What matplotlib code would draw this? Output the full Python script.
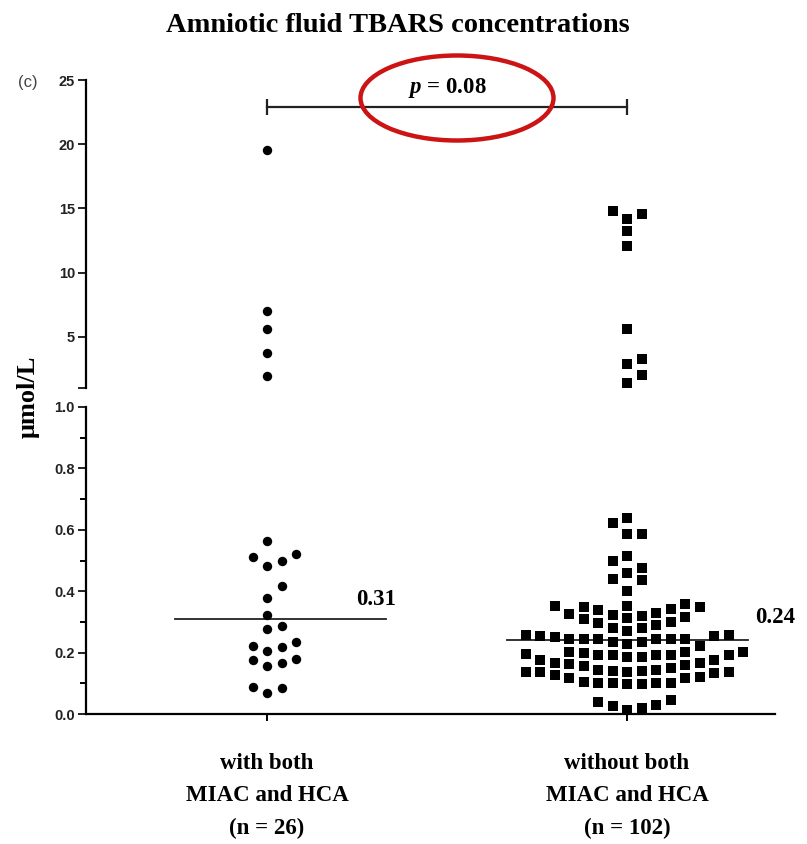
import numpy as np
import matplotlib.pyplot as plt
from matplotlib.patches import Ellipse

# ── data ──────────────────────────────────────────────────────────────────────
groups = ['with both\nMIAC and HCA\n(n = 26)', 'without both\nMIAC and HCA\n(n = 102)']
group_x = [1, 2]
markers = ['o', 's']

# values above the axis break (µmol/L)
with_upper = [19.56, 7.0, 5.6, 3.75, 1.93]
without_upper = [14.76, 14.56, 14.17, 13.2, 12.04, 5.61, 3.23, 2.9, 2.0, 1.4]

# values below the axis break
with_lower = [0.564, 0.512, 0.483, 0.499, 0.521, 0.417, 0.379, 0.322, 0.288,
              0.277, 0.223, 0.206, 0.219, 0.236, 0.179, 0.165, 0.157, 0.176,
              0.089, 0.069, 0.086]
without_lower = [0.623, 0.637, 0.585, 0.585, 0.498, 0.515, 0.477, 0.436, 0.460,
                 0.439, 0.402,
                 0.352, 0.350, 0.341, 0.330, 0.322, 0.325, 0.339, 0.350, 0.352, 0.357,
                 0.315, 0.308, 0.297, 0.279, 0.281, 0.290, 0.301, 0.312, 0.319,
                 0.270, 0.254, 0.254, 0.243, 0.243, 0.243, 0.236, 0.228, 0.236,
                 0.243, 0.243, 0.243, 0.251, 0.221, 0.257, 0.257,
                 0.203, 0.203, 0.192, 0.192, 0.192, 0.187, 0.176, 0.187, 0.176,
                 0.192, 0.192, 0.195, 0.199, 0.203,
                 0.160, 0.132, 0.149, 0.116, 0.143, 0.116, 0.138,
                 0.165,
                 0.140, 0.138, 0.137, 0.139, 0.136,
                 0.102, 0.100, 0.099, 0.100, 0.101, 0.098,
                 0.105, 0.143, 0.122, 0.156, 0.127, 0.163, 0.167,
                 0.040, 0.026, 0.013, 0.018, 0.029, 0.046]

medians = [0.31, 0.24]
median_labels = ['0.31', '0.24']
p_value = '0.08'
title = 'Amniotic fluid TBARS concentrations'

# ── style ─────────────────────────────────────────────────────────────────────
plt.rcParams['font.family'] = 'Liberation Sans'
plt.rcParams['mathtext.fontset'] = 'custom'
plt.rcParams['mathtext.it'] = 'Liberation Serif:italic:bold'
plt.rcParams['mathtext.rm'] = 'Liberation Serif:bold'
SERIF = 'Liberation Serif'

W, H = 807, 844
fig = plt.figure(figsize=(W / 100, H / 100), dpi=100)


def box(l, t, r, b):
    """pixel box -> figure fraction rect"""
    return [l / W, 1 - b / H, (r - l) / W, (b - t) / H]


ax_top = fig.add_axes(box(86, 80, 775, 388))
ax_bot = fig.add_axes(box(86, 407, 775, 714))
XLIM = (0.497, 2.411)

ax_top.set_xlim(*XLIM)
ax_top.set_ylim(1, 25)
ax_bot.set_xlim(*XLIM)
ax_bot.set_ylim(0, 1.0)


def column_swarm(ax, values, center, dx_px=14.5, h_px=12.0):
    """Prism-like dot layout: each point goes to the most central column
    where it does not overlap the previous point in that column."""
    vals = np.asarray(values, float)
    yp = ax.transData.transform(np.column_stack([np.full(len(vals), center), vals]))[:, 1]
    px_per_x = (ax.transData.transform([(1, 0)])[0, 0]
                - ax.transData.transform([(0, 0)])[0, 0])
    slots = [0] + [s for k in range(1, 40) for s in (k, -k)]
    last = {}
    offs = np.zeros(len(vals))
    for i in np.argsort(yp):
        for s in slots:
            if s not in last or yp[i] - last[s] >= h_px:
                last[s] = yp[i]
                offs[i] = s
                break
    return center + offs * dx_px / px_per_x


for gx, mk, up, lo in zip(group_x, markers, [with_upper, without_upper],
                          [with_lower, without_lower]):
    size = 46 if mk == 'o' else 42
    ax_top.scatter(column_swarm(ax_top, up, gx), up, marker=mk, s=size,
                   color='black', linewidths=0, clip_on=False, zorder=3)
    ax_bot.scatter(column_swarm(ax_bot, lo, gx), lo, marker=mk, s=size,
                   color='black', linewidths=0, clip_on=False, zorder=3)

# median lines + labels
line_spans = [(-0.255, 0.33), (-0.333, 0.335)]
label_offsets = [(-10, 9), (27, 12)]
for gx, med, lab, (a, b), off in zip(group_x, medians, median_labels,
                                     line_spans, label_offsets):
    ax_bot.plot([gx + a, gx + b], [med, med], color='#222222', lw=1.3, zorder=2)
    ax_bot.annotate(lab, (gx + b, med), xytext=off, textcoords='offset pixels',
                    ha='center', va='bottom', fontsize=16.5, fontweight='bold',
                    family=SERIF, annotation_clip=False)

# p-value bracket
ax_top.plot(group_x, [22.9, 22.9], color='#222222', lw=1.6, marker='|',
            markersize=11, mew=1.6, clip_on=False)
ax_top.text(np.mean(group_x), 23.95, r'$p$ = ' + p_value, ha='center',
            va='baseline', fontsize=16.5, fontweight='bold', family=SERIF)
fig.add_artist(Ellipse((457 / W, 1 - 98 / H), 193 / W, 85 / H,
                       transform=fig.transFigure, fill=False,
                       ec='#cc1414', lw=3.2))

# axes styling
for ax in (ax_top, ax_bot):
    for side in ('top', 'right'):
        ax.spines[side].set_visible(False)
    ax.spines['left'].set_linewidth(1.6)
    ax.tick_params(axis='y', length=6, width=1.4,
                   labelsize=10.5, pad=2, colors='#222222')

ax_top.spines['bottom'].set_visible(False)
ax_top.set_xticks([])
ax_top.set_yticks([1, 5, 10, 15, 20, 25], ['', '5', '10', '15', '20', '25'])

ax_bot.spines['bottom'].set_linewidth(1.6)
ax_bot.set_yticks(np.arange(0, 1.01, 0.2), ['0.0', '0.2', '0.4', '0.6', '0.8', '1.0'])
ax_bot.set_yticks(np.arange(0.1, 1.0, 0.2), minor=True)
ax_bot.tick_params(axis='y', which='minor', length=4, width=1.4)
ax_bot.set_xticks(group_x, groups)
ax_bot.tick_params(axis='x', length=5, width=1.4, pad=23)
for lbl in ax_bot.get_xticklabels():
    lbl.set_fontfamily(SERIF)
    lbl.set_fontweight('bold')
    lbl.set_fontsize(16.5)
    lbl.set_linespacing(1.72)
for ax in (ax_top, ax_bot):
    for lbl in ax.get_yticklabels():
        lbl.set_fontweight('bold')

fig.text(398 / W, 1 - 25 / H, title, ha='center', va='center', fontsize=20.5,
         fontweight='bold', family=SERIF)
fig.text(28 / W, 1 - 397 / H, 'μmol/L', rotation=90, ha='center', va='center',
         fontsize=19, fontweight='bold', family=SERIF)
fig.text(28 / W, 1 - 82 / H, '(c)', ha='center', va='center', fontsize=12,
         color='#444444')

fig.savefig('out.png', dpi=100)
